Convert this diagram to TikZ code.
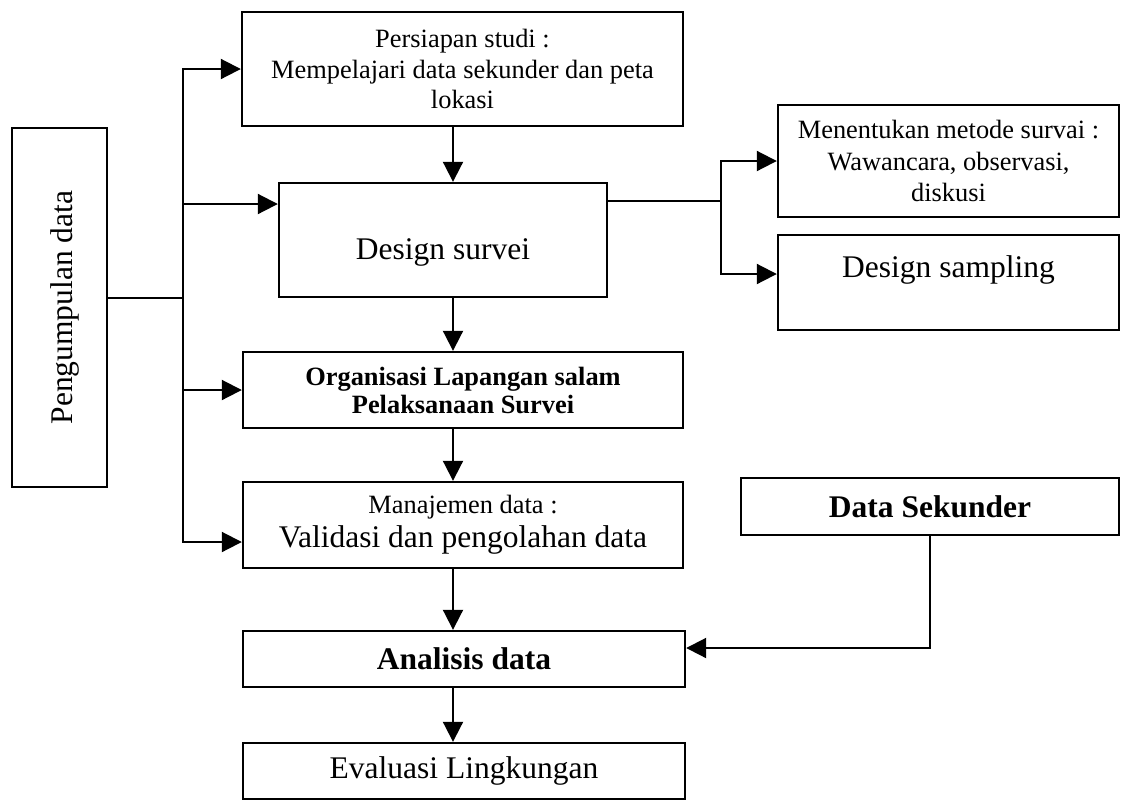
\documentclass[tikz,border=0pt]{standalone}
\usepackage{fontspec}
\setmainfont{Liberation Serif}
\usetikzlibrary{arrows.meta}
\newcommand{\besar}{\fontsize{15.75}{19}\selectfont}
\newcommand{\kecil}{\fontsize{13.2}{15.25}\selectfont}
\begin{document}
\begin{tikzpicture}[x=0.5pt, y=-0.5pt, line width=1pt, >={Triangle[length=10pt, width=10pt]}]
    \tikzstyle{kotak}=[draw, line width=1.2pt, align=center, inner sep=0pt, font=\besar]
    \tikzstyle{kotak-kecil}=[kotak, font=\kecil]
    \useasboundingbox (0,0) rectangle (1121,800);

    \node (kumpul) [kotak, minimum width=47.5pt, minimum height=179.5pt] at (59.5,307.5) {\rotatebox{90}{Pengumpulan data\rule{0pt}{16pt}}};
    \node (persiapan) [kotak-kecil, minimum width=220.5pt, minimum height=57pt] at (462.5,69) {Persiapan studi :\\Mempelajari data sekunder dan peta\\lokasi};
    \node (design) [kotak, minimum width=164pt, minimum height=57pt, text height=23pt, text depth=3.5pt] at (443,240) {Design survei};
    \node (metode) [kotak-kecil, minimum width=170.5pt, minimum height=56pt] at (948.5,161) {Menentukan metode survai :\\[0.5pt]Wawancara, observasi,\\[0.5pt]diskusi};
    \node (sampling) [kotak, minimum width=170.5pt, minimum height=47.5pt, text height=10.5pt, text depth=16pt] at (948.5,282.5) {Design sampling};
    \node (organisasi) [kotak-kecil, minimum width=220pt, minimum height=38pt, font=\kecil\bfseries] at (463,390) {Organisasi Lapangan salam\\[-1.25pt]Pelaksanaan Survei};
    \node (manajemen) [kotak, minimum width=220pt, minimum height=43pt] at (463,525) {{\kecil Manajemen data :}\\[-2pt]Validasi dan pengolahan data};
    \node (sekunder) [kotak, minimum width=189pt, minimum height=28.5pt, font=\besar\bfseries] at (930,506.5) {Data Sekunder};
    \node (analisis) [kotak, minimum width=221pt, minimum height=28pt, font=\besar\bfseries] at (464,659) {Analisis data};
    \node (evaluasi) [kotak, minimum width=221pt, minimum height=28pt] at (464,771) {Evaluasi Lingkungan};

    \coordinate (pisah) at (183,298);
    \coordinate (tengah) at (453,0);
    \coordinate (cabang) at (721,201);

    \draw (pisah -| kumpul.east) -- (pisah);
    \draw [->] (pisah) |- (persiapan.west);
    \draw [->] (pisah) |- ([yshift=18pt]design.west);
    \draw [->] (pisah) |- (organisasi.west);
    \draw [->] (pisah) |- ([yshift=-8.5pt]manajemen.west);

    \draw [->] (persiapan.south -| tengah) -- (design.north -| tengah);
    \draw [->] (design.south -| tengah) -- (organisasi.north -| tengah);
    \draw [->] (organisasi.south -| tengah) -- (manajemen.north -| tengah);
    \draw [->] (manajemen.south -| tengah) -- (analisis.north -| tengah);
    \draw [->] (analisis.south -| tengah) -- (evaluasi.north -| tengah);

    \draw (cabang -| design.east) -- (cabang);
    \draw [->] (cabang) |- (metode.west);
    \draw [->] (cabang) |- ([yshift=4.25pt]sampling.west);

    \draw [->] (sekunder.south) |- ([yshift=5.5pt]analisis.east);
\end{tikzpicture}
\end{document}
